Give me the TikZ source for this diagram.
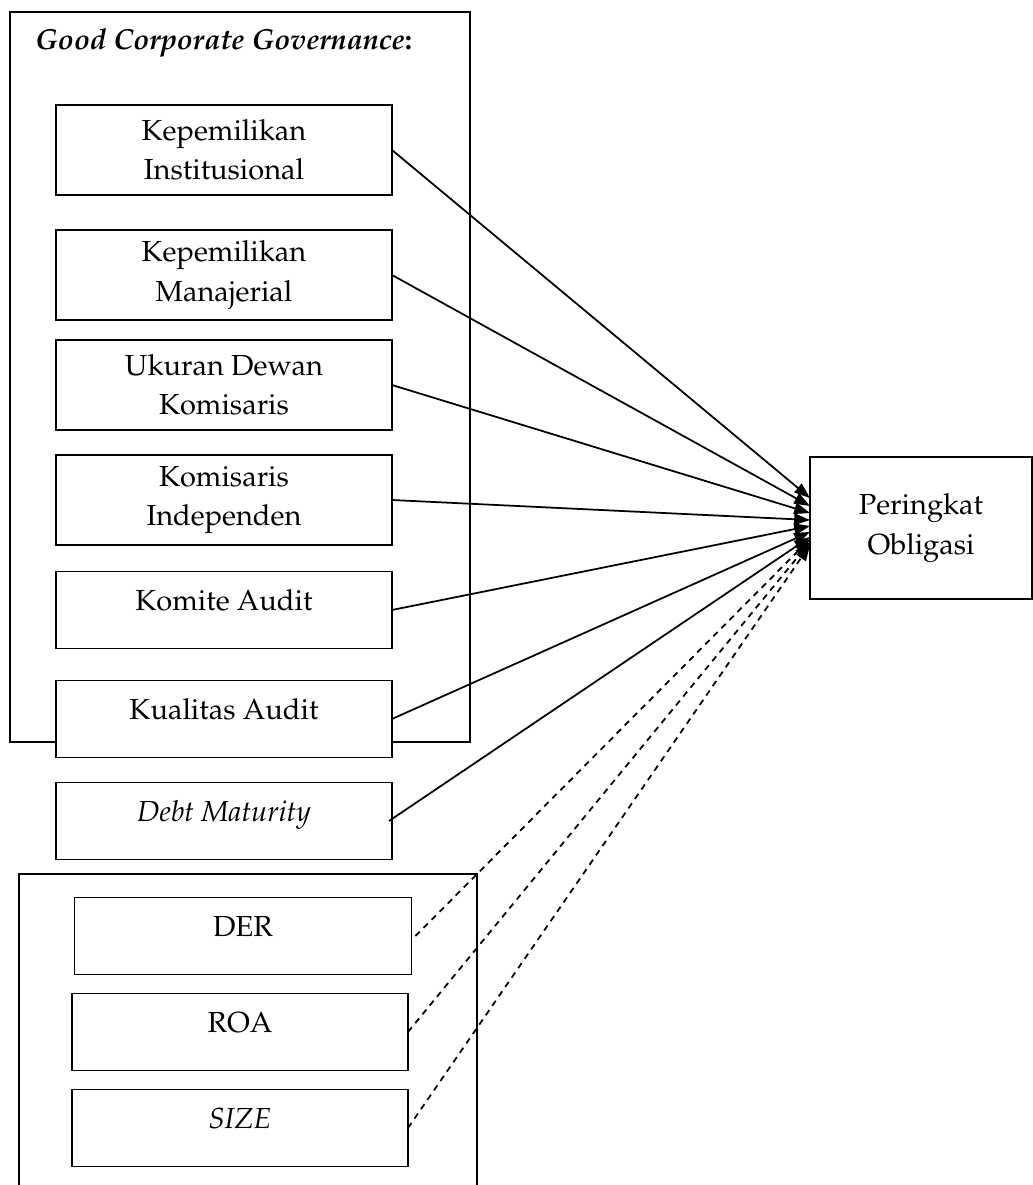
\documentclass[tikz,border=0pt]{standalone}
\usepackage[T1]{fontenc}
\usepackage{mathpazo}
\usetikzlibrary{arrows.meta}

\begin{document}
\begin{tikzpicture}[x=0.02cm, y=-0.02cm,
    font=\fontsize{16.5}{22.5}\selectfont]

\useasboundingbox (0,0) rectangle (1033,1185);

% outer frames
\begin{scope}[
    every node/.style={
        draw,
        line width=1pt,
        inner sep=0pt,
        outer sep=0pt}]

    \node[minimum width=9.2cm, minimum height=14.6cm] (gcg) at (240,377) {};
    \node[minimum width=9.16cm, minimum height=6.6cm] (kontrol) at (248,1039) {};
\end{scope}

\node[anchor=base west, inner sep=0pt] (gcgtitle) at (35,50)
    {\textbf{\textit{Good Corporate Governance}:}};

\begin{scope}[
    every node/.style={
        draw,
        line width=1pt,
        fill=white,
        align=center,
        outer sep=0pt,
        minimum width=6.72cm,
        minimum height=1.54cm},
    single/.style={text height=12pt, text depth=12pt}]

    \node[minimum height=1.8cm] (inst) at (224,150) {Kepemilikan\\Institusional};
    \node[minimum height=1.8cm] (manaj) at (224,275) {Kepemilikan\\Manajerial};
    \node[minimum height=1.8cm] (ukuran) at (224,385) {Ukuran Dewan\\Komisaris};
    \node[minimum height=1.8cm] (indep) at (224,500) {Komisaris\\Independen};
    \node[single] (komite) at (224,610) {Komite Audit};
    \node[single] (kualitas) at (224,719) {Kualitas Audit};
    \node[single] (debt) at (224,821) {\textit{Debt Maturity}};

    \node[single, minimum width=6.74cm] (der) at (243,936) {DER};
    \node[single] (roa) at (240,1032) {ROA};
    \node[single] (size) at (240,1128) {\textit{SIZE}};

    \node[minimum width=4.44cm, minimum height=2.84cm] (peringkat) at (921,528)
        {Peringkat\\Obligasi};
\end{scope}


\begin{scope}[>={Triangle[length=9pt,width=6.5pt]},
              every edge/.style={draw,line width=1pt}]

    \path [->] (inst.east) edge ([yshift=0.60cm]peringkat.west);
    \path [->] (manaj.east) edge ([yshift=0.44cm]peringkat.west);
    \path [->] (ukuran.east) edge ([yshift=0.30cm]peringkat.west);
    \path [->] (indep.east) edge ([yshift=0.16cm]peringkat.west);
    \path [->] (komite.east) edge ([yshift=0.04cm]peringkat.west);
    \path [->] (kualitas.east) edge ([yshift=-0.08cm]peringkat.west);
    \path [->] ([xshift=-0.06cm]debt.east) edge ([yshift=-0.18cm]peringkat.west);

    \path [->] ([xshift=0.08cm]der.east) edge[dash pattern=on 3.5pt off 3pt] ([yshift=-0.22cm]peringkat.west);
    \path [->] (roa.east) edge[dash pattern=on 3.5pt off 3pt] ([yshift=-0.28cm]peringkat.west);
    \path [->] (size.east) edge[dash pattern=on 3.5pt off 3pt] ([yshift=-0.34cm]peringkat.west);

\end{scope}
\end{tikzpicture}
\end{document}
